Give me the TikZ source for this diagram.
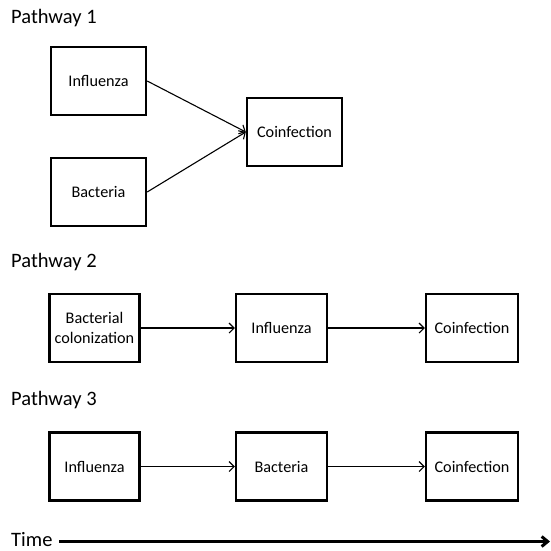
\documentclass[tikz,border=0pt]{standalone}
\usepackage{fontspec}
\setmainfont{Carlito}
\usetikzlibrary{arrows.meta}
\begin{document}
\begin{tikzpicture}[x=1pt,y=-1pt,
  box/.style={draw, line width=2.4pt, minimum width=#1, minimum height=68pt, inner sep=0pt, font=\fontsize{16.2}{17}\selectfont, align=center},
  box/.default=94pt,
  conn/.style={line width=1.1pt, -{Straight Barb[length=5pt,width=10pt]}},
  lbl/.style={anchor=base west, inner sep=0pt, font=\fontsize{20.5}{22}\selectfont}]
\useasboundingbox (0,0) rectangle (550,551);
% Pathway 1
\node[lbl] (p1) at (11,24) {Pathway 1};
\node[box=95pt] (a1) at (98.5,81) {Influenza};
\node[box=95pt] (b1) at (98.5,192) {Bacteria};
\node[box=95pt] (c1) at (294.5,132) {Coinfection};
\draw[conn] (a1.east) -- (c1.west);
\draw[conn] (b1.east) -- (c1.west);
% Pathway 2
\node[lbl] (p2) at (11,267) {Pathway 2};
\node[box=90pt, font=\fontsize{16.2}{19.5}\selectfont] (a2) at (94.5,328) {Bacterial\\colonization};
\node[box=91pt] (b2) at (281.5,328) {Influenza};
\node[box=92pt] (c2) at (472,328) {Coinfection};
\draw[conn] (a2.east) -- (b2.west);
\draw[conn] (b2.east) -- (c2.west);
% Pathway 3
\node[lbl] (p3) at (11,405) {Pathway 3};
\node[box=90pt] (a3) at (94.5,466.5) {Influenza};
\node[box=91pt] (b3) at (281.5,466.5) {Bacteria};
\node[box=92pt] (c3) at (472,466.5) {Coinfection};
\draw[conn] (a3.east) -- (b3.west);
\draw[conn] (b3.east) -- (c3.west);
% Time
\node[lbl] (t) at (11,546) {Time};
\coordinate (tend) at (550,541.5);
\draw[line width=3pt, -{Straight Barb[length=6pt,width=10pt]}] (59,541.5) -- (tend);
\end{tikzpicture}
\end{document}
